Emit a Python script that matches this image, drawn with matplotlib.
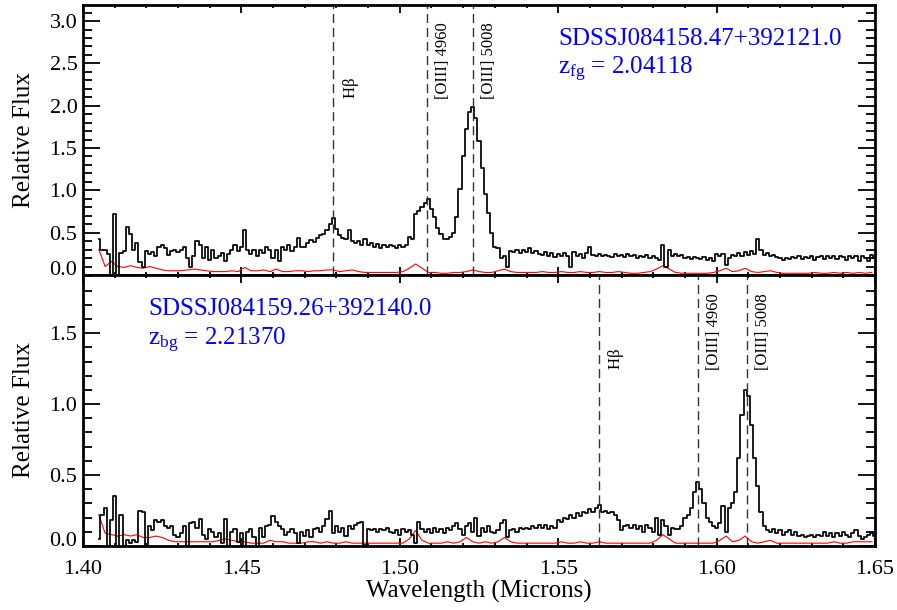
"""
Two-panel NIR spectra of a foreground/background quasar pair, with line markers.
Writes out.png.
"""

import numpy as np
import matplotlib
matplotlib.use('Agg')
import matplotlib.pyplot as plt
from matplotlib.ticker import MultipleLocator, FormatStrFormatter

plt.rcParams['font.family'] = ['Liberation Serif', 'DejaVu Serif']
plt.rcParams['mathtext.fontset'] = 'custom'
plt.rcParams['mathtext.rm'] = 'Liberation Serif'
plt.rcParams['mathtext.it'] = 'Liberation Serif'

# ── spectra: flux per 0.001 micron pixel starting at 1.405 ───────────────────
wave_start = 1.405
wave_step = 0.001

flux_fg = [
    0.43, 0.30, 0.30, 0.25, 0.00, 0.72, 0.00, 0.26, 0.28, 0.57,
    0.48, 0.30, 0.38, 0.15, 0.10, 0.28, 0.25, 0.27, 0.22, 0.33,
    0.36, 0.32, 0.24, 0.28, 0.30, 0.27, 0.30, 0.33, 0.20, 0.10,
    0.22, 0.40, 0.35, 0.20, 0.33, 0.18, 0.30, 0.20, 0.22, 0.26,
    0.17, 0.25, 0.30, 0.36, 0.28, 0.33, 0.53, 0.30, 0.25, 0.30,
    0.22, 0.30, 0.26, 0.33, 0.29, 0.20, 0.30, 0.16, 0.33, 0.30,
    0.36, 0.28, 0.33, 0.44, 0.33, 0.33, 0.38, 0.41, 0.39, 0.44,
    0.47, 0.48, 0.53, 0.60, 0.67, 0.54, 0.47, 0.44, 0.42, 0.53,
    0.40, 0.38, 0.40, 0.36, 0.42, 0.36, 0.38, 0.33, 0.37, 0.32,
    0.36, 0.33, 0.35, 0.34, 0.32, 0.35, 0.33, 0.36, 0.45, 0.42,
    0.72, 0.76, 0.80, 0.85, 0.90, 0.78, 0.68, 0.56, 0.48, 0.43,
    0.43, 0.45, 0.50, 0.68, 1.02, 1.40, 1.72, 1.92, 1.98, 1.86,
    1.58, 1.26, 0.96, 0.73, 0.50, 0.33, 0.32, 0.20, 0.22, 0.10,
    0.28, 0.27, 0.30, 0.26, 0.30, 0.27, 0.32, 0.26, 0.28, 0.25,
    0.24, 0.27, 0.22, 0.26, 0.21, 0.25, 0.22, 0.26, 0.23, 0.10,
    0.27, 0.22, 0.25, 0.20, 0.26, 0.33, 0.24, 0.23, 0.25, 0.22,
    0.24, 0.23, 0.21, 0.25, 0.22, 0.24, 0.21, 0.25, 0.22, 0.24,
    0.20, 0.23, 0.21, 0.24, 0.20, 0.23, 0.20, 0.18, 0.35, 0.10,
    0.30, 0.22, 0.25, 0.22, 0.24, 0.20, 0.21, 0.19, 0.21, 0.20,
    0.19, 0.21, 0.18, 0.20, 0.17, 0.25, 0.22, 0.25, 0.12, 0.20,
    0.24, 0.22, 0.26, 0.23, 0.27, 0.24, 0.28, 0.25, 0.42, 0.30,
    0.24, 0.26, 0.22, 0.24, 0.21, 0.20, 0.18, 0.20, 0.19, 0.21,
    0.20, 0.22, 0.19, 0.21, 0.20, 0.22, 0.18, 0.21, 0.22, 0.19,
    0.23, 0.20, 0.22, 0.19, 0.23, 0.21, 0.18, 0.22, 0.20, 0.23,
    0.17, 0.22, 0.20, 0.16, 0.24, 0.20,
]

flux_bg = [
    0.05, 0.22, 0.27, 0.00, 0.18, 0.35, 0.00, 0.22, 0.00, 0.04,
    0.02, 0.04, 0.03, 0.25, 0.24, 0.00, 0.14, 0.11, 0.18, 0.17,
    0.18, 0.14, 0.13, 0.14, 0.08, 0.06, 0.09, 0.14, 0.00, 0.16,
    0.17, 0.13, 0.19, 0.08, 0.05, 0.12, 0.10, 0.06, 0.09, 0.02,
    0.19, 0.00, 0.10, 0.12, 0.03, 0.09, 0.00, 0.10, 0.12, 0.06,
    0.00, 0.13, 0.06, 0.14, 0.15, 0.21, 0.17, 0.14, 0.12, 0.08,
    0.10, 0.12, 0.09, 0.02, 0.10, 0.07, 0.11, 0.06, 0.12, 0.13,
    0.10, 0.14, 0.19, 0.25, 0.09, 0.14, 0.10, 0.13, 0.07, 0.14,
    0.12, 0.15, 0.16, 0.17, 0.01, 0.12, 0.11, 0.12, 0.10, 0.12,
    0.11, 0.13, 0.10, 0.09, 0.11, 0.08, 0.12, 0.10, 0.11, 0.08,
    0.02, 0.17, 0.12, 0.10, 0.12, 0.09, 0.13, 0.10, 0.12, 0.09,
    0.13, 0.11, 0.14, 0.16, 0.12, 0.08, 0.14, 0.16, 0.10, 0.20,
    0.07, 0.13, 0.10, 0.14, 0.10, 0.09, 0.11, 0.16, 0.18, 0.06,
    0.11, 0.12, 0.10, 0.13, 0.12, 0.13, 0.12, 0.14, 0.13, 0.15,
    0.13, 0.15, 0.12, 0.14, 0.13, 0.18, 0.17, 0.20, 0.19, 0.22,
    0.20, 0.23, 0.21, 0.24, 0.23, 0.26, 0.24, 0.27, 0.29, 0.24,
    0.25, 0.23, 0.24, 0.22, 0.18, 0.11, 0.14, 0.15, 0.13, 0.15,
    0.12, 0.14, 0.10, 0.15, 0.13, 0.10, 0.20, 0.08, 0.18, 0.14,
    0.08, 0.13, 0.12, 0.12, 0.14, 0.20, 0.22, 0.27, 0.38, 0.45,
    0.40, 0.30, 0.20, 0.17, 0.14, 0.13, 0.16, 0.28, 0.10, 0.27,
    0.30, 0.38, 0.62, 0.92, 1.10, 1.06, 0.85, 0.62, 0.42, 0.24,
    0.14, 0.11, 0.10, 0.12, 0.09, 0.11, 0.08, 0.10, 0.11, 0.08,
    0.10, 0.07, 0.08, 0.06, 0.07, 0.08, 0.06, 0.08, 0.07, 0.10,
    0.07, 0.09, 0.06, 0.09, 0.07, 0.10, 0.08, 0.06, 0.09, 0.11,
    0.07, 0.05, 0.06, 0.08, 0.09, 0.07,
]

# ── error spectra: every 0.002 micron starting at 1.405 ──────────────────────
err_start = 1.405
err_step = 0.002

err_fg = [
    0.30, 0.10, 0.16, 0.10, 0.09, 0.11, 0.09, 0.08, 0.10, 0.08,
    0.06, 0.05, 0.05, 0.05, 0.06, 0.07, 0.06, 0.05, 0.04, 0.04,
    0.04, 0.05, 0.04, 0.09, 0.05, 0.05, 0.06, 0.04, 0.07, 0.04,
    0.04, 0.05, 0.05, 0.04, 0.05, 0.05, 0.06, 0.06, 0.04, 0.05,
    0.06, 0.04, 0.03, 0.03, 0.03, 0.03, 0.03, 0.03, 0.04, 0.08,
    0.13, 0.08, 0.03, 0.03, 0.02, 0.02, 0.03, 0.03, 0.04, 0.06,
    0.04, 0.03, 0.03, 0.05, 0.07, 0.04, 0.03, 0.03, 0.03, 0.03,
    0.04, 0.03, 0.03, 0.04, 0.03, 0.03, 0.04, 0.03, 0.03, 0.04,
    0.03, 0.03, 0.04, 0.03, 0.02, 0.02, 0.03, 0.04, 0.07, 0.11,
    0.07, 0.03, 0.02, 0.02, 0.02, 0.02, 0.02, 0.03, 0.05, 0.08,
    0.04, 0.05, 0.08, 0.04, 0.03, 0.04, 0.05, 0.03, 0.02, 0.02,
    0.02, 0.02, 0.02, 0.03, 0.02, 0.02, 0.03, 0.02, 0.03, 0.02,
    0.03, 0.02, 0.03,
]

err_bg = [
    0.22, 0.09, 0.08, 0.07, 0.08, 0.07, 0.08, 0.06, 0.06, 0.07,
    0.06, 0.04, 0.03, 0.03, 0.03, 0.03, 0.03, 0.03, 0.03, 0.04,
    0.05, 0.04, 0.03, 0.03, 0.02, 0.02, 0.02, 0.04, 0.03, 0.03,
    0.02, 0.02, 0.02, 0.03, 0.03, 0.02, 0.03, 0.02, 0.02, 0.03,
    0.02, 0.02, 0.02, 0.02, 0.02, 0.02, 0.02, 0.02, 0.02, 0.05,
    0.11, 0.04, 0.02, 0.02, 0.02, 0.03, 0.02, 0.03, 0.06, 0.03,
    0.02, 0.03, 0.02, 0.03, 0.06, 0.03, 0.02, 0.02, 0.02, 0.02,
    0.02, 0.02, 0.02, 0.03, 0.02, 0.02, 0.03, 0.02, 0.02, 0.03,
    0.02, 0.02, 0.02, 0.02, 0.02, 0.02, 0.02, 0.02, 0.04, 0.08,
    0.05, 0.02, 0.02, 0.02, 0.02, 0.02, 0.02, 0.02, 0.04, 0.07,
    0.03, 0.04, 0.07, 0.03, 0.02, 0.03, 0.04, 0.02, 0.02, 0.02,
    0.02, 0.02, 0.02, 0.02, 0.02, 0.02, 0.03, 0.02, 0.02, 0.03,
    0.03, 0.03, 0.03,
]

# ── redshifts and rest-frame lines (Angstrom) ───────────────────────────────
z_fg = 2.04118
z_bg = 2.21370
line_rest = [4862.68, 4960.30, 5008.24]
line_names = [r'H$\beta$', '[OIII] 4960', '[OIII] 5008']
yticks_fg = [0.0, 0.5, 1.0, 1.5, 2.0, 2.5, 3.0]
yticks_bg = [0.0, 0.5, 1.0, 1.5]


def style_axis(ax, ymax, yticks, show_xlabels):
    ax.set_xlim(1.40, 1.65)
    ax.set_ylim(0.0, ymax)
    ax.xaxis.set_major_locator(MultipleLocator(0.05))
    ax.xaxis.set_minor_locator(MultipleLocator(0.01))
    ax.xaxis.set_major_formatter(FormatStrFormatter('%.2f'))
    ax.set_yticks(yticks)
    ax.yaxis.set_minor_locator(MultipleLocator(0.1))
    ax.yaxis.set_major_formatter(FormatStrFormatter('%.1f'))
    ax.tick_params(axis='both', which='both', direction='in',
                   top=True, right=True, labelsize=16, width=1.3)
    ax.tick_params(axis='x', which='major', length=6, pad=10)
    ax.tick_params(axis='x', which='minor', length=2.5)
    ax.tick_params(axis='y', which='major', length=12, pad=4)
    ax.tick_params(axis='y', which='minor', length=6.5)
    ax.tick_params(axis='x', labelbottom=show_xlabels)
    for s in ax.spines.values():
        s.set_linewidth(2.0)
    ax.set_ylabel('Relative Flux', fontsize=18)
    ax.yaxis.set_label_coords(-0.06, 0.5)


def draw_panel(ax, flux, err, z, name, zlabel, text_x, ymax, yticks, show_xlabels):
    wave = wave_start + wave_step * np.arange(len(flux))
    ewave = err_start + err_step * np.arange(len(err))
    ax.plot(ewave, err, color='red', lw=0.8)
    ax.step(wave, flux, where='mid', color='black', lw=1.25)
    for rest, label in zip(line_rest, line_names):
        lam = rest * (1 + z) / 1e4
        ax.axvline(lam, color='0.2', lw=1.0, linestyle=(0, (6.5, 3.6)))
        ax.text(lam + 0.0025, 0.65, label, rotation=90, ha='left', va='bottom',
                fontsize=12, transform=ax.get_xaxis_transform())
    ax.text(text_x, 0.875, name, color='blue', fontsize=18,
            ha='left', va='center', transform=ax.transAxes)
    ax.text(text_x, 0.76, r'z$_{\rm %s}$ = %.5f' % (zlabel, z), color='blue',
            fontsize=18, ha='left', va='center', transform=ax.transAxes)
    style_axis(ax, ymax, yticks, show_xlabels)


def main():
    fig = plt.figure(figsize=(8.97, 6.10), dpi=100)
    ax_top = fig.add_axes([0.0925, 0.5492, 0.883, 0.4426])
    ax_bot = fig.add_axes([0.0925, 0.1049, 0.883, 0.4443])

    draw_panel(ax_top, flux_fg, err_fg, z_fg, 'SDSSJ084158.47+392121.0', 'fg',
               0.60, 3.19, yticks_fg, False)
    draw_panel(ax_bot, flux_bg, err_bg, z_bg, 'SDSSJ084159.26+392140.0', 'bg',
               0.082, 1.91, yticks_bg, True)
    ax_bot.set_xlabel('Wavelength (Microns)', fontsize=18, labelpad=1)

    # the 0.0 label sits just above the lower corner, as in the original
    fig.canvas.draw()
    for ax in (ax_top, ax_bot):
        ax.yaxis.get_major_ticks()[0].label1.set_verticalalignment('baseline')

    fig.savefig('out.png', dpi=100)


if __name__ == '__main__':
    main()
